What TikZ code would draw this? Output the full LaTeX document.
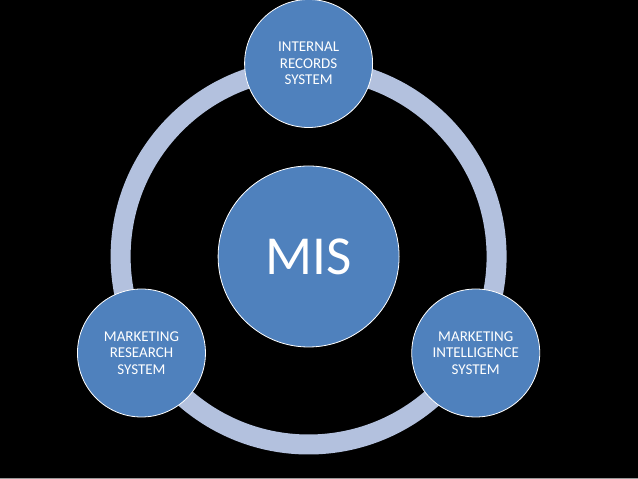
\documentclass[tikz,border=0pt]{standalone}
\usepackage{fontspec}
\setmainfont{Carlito}
\usetikzlibrary{positioning, calc}

\definecolor{misblue}{RGB}{79,129,189}
\definecolor{ringblue}{RGB}{179,193,222}

\begin{document}
\begin{tikzpicture}[x=1pt, y=1pt]
    \tikzset{bubble/.style = {circle, draw=white, line width=0.8pt, fill=misblue, text=white,
                              inner sep=0pt, align=center, minimum size=128pt,
                              font=\fontsize{15}{16.7}\selectfont},
             hub/.style = {bubble, minimum size=181pt, font=\fontsize{55}{60}\selectfont},
             ring/.style = {draw=ringblue, line width=20pt}
            }
    \fill[black] (0,0) rectangle (638,479);
    \useasboundingbox (0,0) rectangle (638,479);
    \draw[gray!80, line width=1pt] (0,0.5) -- (638,0.5);
    \coordinate (centre) at (308.6,222.5);
    \draw[ring] (centre) circle[radius=188pt];
    \node (mis) [hub] at (centre) {MIS};
    \node (records) [bubble] at ($(centre)+(90:193)$) {INTERNAL\\RECORDS\\SYSTEM};
    \node (research) [bubble] at ($(centre)+(210:193)$) {MARKETING\\RESEARCH\\SYSTEM};
    \node (intelligence) [bubble] at ($(centre)+(330:193)$) {MARKETING\\INTELLIGENCE\\SYSTEM};
\end{tikzpicture}
\end{document}
